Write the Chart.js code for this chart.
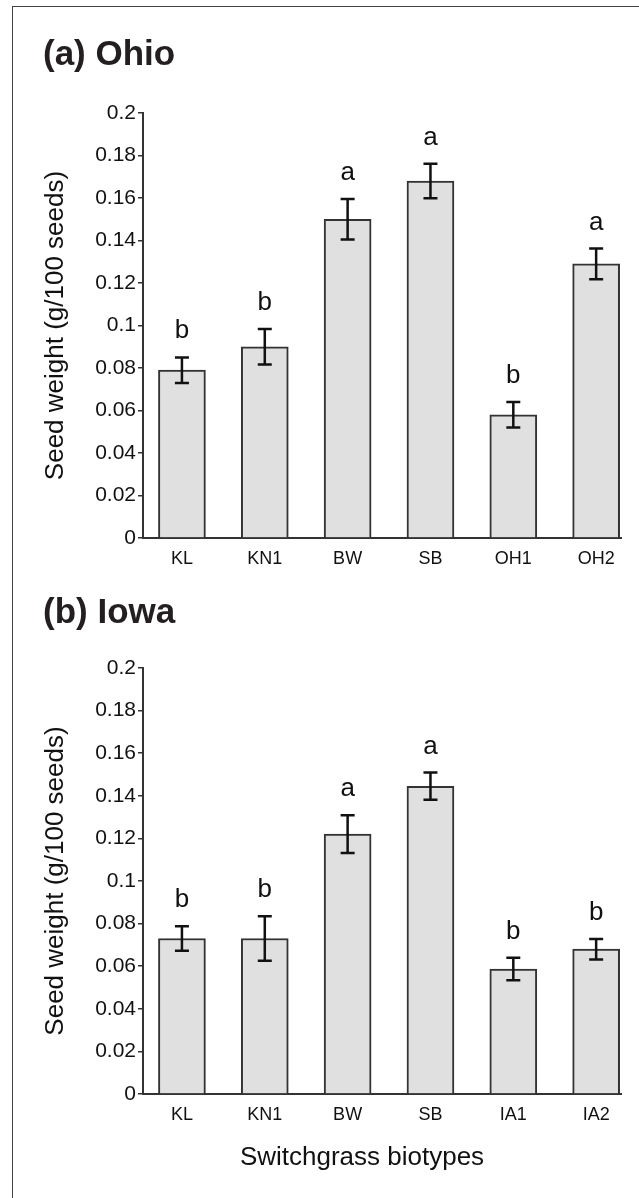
<!DOCTYPE html>
<html>
<head>
<meta charset="utf-8">
<script src="https://cdn.jsdelivr.net/npm/chart.js@4"></script>
<style>
  html, body { margin: 0; padding: 0; background: #fff; }
  body { width: 639px; height: 1198px; position: relative; overflow: hidden; }
  canvas { position: absolute; left: 0; }
  #c1 { top: 0; }
  #c2 { top: 580px; }
  .frame { position: absolute; left: 12px; top: 6px; right: 0; bottom: 0;
           border-left: 1px solid #444; border-top: 1px solid #444; }
</style>
</head>
<body>
<div class="frame"></div>
<canvas id="c1" width="639" height="580"></canvas>
<canvas id="c2" width="639" height="618"></canvas>
<script>
// ---------- data ----------
const categoriesOhio = ["KL", "KN1", "BW", "SB", "OH1", "OH2"];
const meansOhio = [0.079, 0.090, 0.150, 0.168, 0.058, 0.129];
const errorsOhio = [0.006, 0.0083, 0.0095, 0.0081, 0.006, 0.0072];
const lettersOhio = ["b", "b", "a", "a", "b", "a"];

const categoriesIowa = ["KL", "KN1", "BW", "SB", "IA1", "IA2"];
const meansIowa = [0.073, 0.073, 0.122, 0.1445, 0.0587, 0.068];
const errorsIowa = [0.0058, 0.0104, 0.0089, 0.0064, 0.0053, 0.0048];
const lettersIowa = ["b", "b", "a", "a", "b", "b"];

const yTicks = [0, 0.02, 0.04, 0.06, 0.08, 0.1, 0.12, 0.14, 0.16, 0.18, 0.2];

const yTitle = "Seed weight (g/100 seeds)";
const xTitle = "Switchgrass biotypes";

// ---------- helpers ----------
const FONT = "'Liberation Sans', Arial, Helvetica, sans-serif";
Chart.defaults.font.family = FONT;
Chart.defaults.color = "#111";

// error bars + significance letters, read from the dataset
const errorBars = {
  id: "errorBars",
  afterDatasetsDraw(chart) {
    const ds = chart.data.datasets[0];
    const { ctx, scales: { x, y } } = chart;
    ctx.save();
    ctx.strokeStyle = "#111";
    ctx.lineWidth = 2.5;
    ctx.fillStyle = "#111";
    ctx.font = "26px " + FONT;
    ctx.textAlign = "center";
    ctx.textBaseline = "alphabetic";
    ds.data.forEach((pt, i) => {
      const px = x.getPixelForValue(pt.x);
      const top = y.getPixelForValue(pt.y + ds.errors[i]);
      const bot = y.getPixelForValue(pt.y - ds.errors[i]);
      ctx.beginPath();
      ctx.moveTo(px, top); ctx.lineTo(px, bot);
      ctx.moveTo(px - 7, top); ctx.lineTo(px + 7, top);
      ctx.moveTo(px - 7, bot); ctx.lineTo(px + 7, bot);
      ctx.stroke();
      ctx.fillText(ds.letters[i], px, top - 19);
    });
    ctx.restore();
  },
};

// x axis caption, sits a little left of the plot centre like the original
const xCaption = {
  id: "xCaption",
  afterDraw(chart, args, opts) {
    if (!opts.text) return;
    const { ctx, scales: { x } } = chart;
    ctx.save();
    ctx.fillStyle = "#111";
    ctx.font = "26px " + FONT;
    ctx.textAlign = "center";
    ctx.textBaseline = "middle";
    ctx.fillText(opts.text, (x.left + x.right) / 2 - 20, x.bottom - 40);
    ctx.restore();
  },
};

function makePanel(id, title, categories, means, errors, letters, o) {
  return new Chart(document.getElementById(id), {
    type: "bar",
    data: {
      datasets: [
        {
          data: means.map((v, i) => ({ x: i, y: v })),
          errors: errors,
          letters: letters,
          backgroundColor: "#e0e0e0",
          borderColor: "#333",
          borderWidth: 2,
          barThickness: 47,
        },
      ],
    },
    options: {
      responsive: false,
      animation: false,
      devicePixelRatio: 1,
      layout: { padding: { left: 43, right: 18, top: 0, bottom: 0 } },
      plugins: {
        legend: { display: false },
        tooltip: { enabled: false },
        title: {
          display: true,
          text: title,
          align: "start",
          color: "#231f20",
          font: { size: 35, weight: "bold" },
          padding: { top: o.titleTop, bottom: o.titleBottom },
        },
        xCaption: { text: o.caption || "" },
      },
      scales: {
        x: {
          type: "linear",
          min: -0.47,
          max: 5.3,
          offset: false,
          afterBuildTicks: (axis) => {
            axis.ticks = categories.map((c, i) => ({ value: i }));
          },
          afterFit: (scale) => { scale.height = o.xHeight; },
          grid: { display: false, drawTicks: false, offset: false },
          border: { display: true, color: "#333", width: 2 },
          ticks: {
            autoSkip: false,
            maxRotation: 0,
            padding: 10,
            font: { size: 18 },
            callback: (v, i) => categories[i],
          },
        },
        y: {
          min: 0,
          max: 0.2,
          afterBuildTicks: (axis) => {
            axis.ticks = yTicks.map((v) => ({ value: v }));
          },
          afterFit: (scale) => { scale.width = 100; },
          grid: { drawOnChartArea: false, drawTicks: true, tickLength: 5, color: "#333", lineWidth: 1.5 },
          border: { display: true, color: "#333", width: 2 },
          ticks: { padding: 2, font: { size: 21 }, callback: (v) => String(v) },
          title: {
            display: true,
            text: yTitle,
            font: { size: 26, lineHeight: 1 },
            padding: { top: 0, bottom: 0 },
          },
        },
      },
    },
    plugins: [errorBars, xCaption],
  });
}

makePanel("c1", "(a) Ohio", categoriesOhio, meansOhio, errorsOhio, lettersOhio,
  { titleTop: 34, titleBottom: 37, xHeight: 42 });
makePanel("c2", "(b) Iowa", categoriesIowa, meansIowa, errorsIowa, lettersIowa,
  { titleTop: 12, titleBottom: 34, xHeight: 104, caption: xTitle });
</script>
</body>
</html>
